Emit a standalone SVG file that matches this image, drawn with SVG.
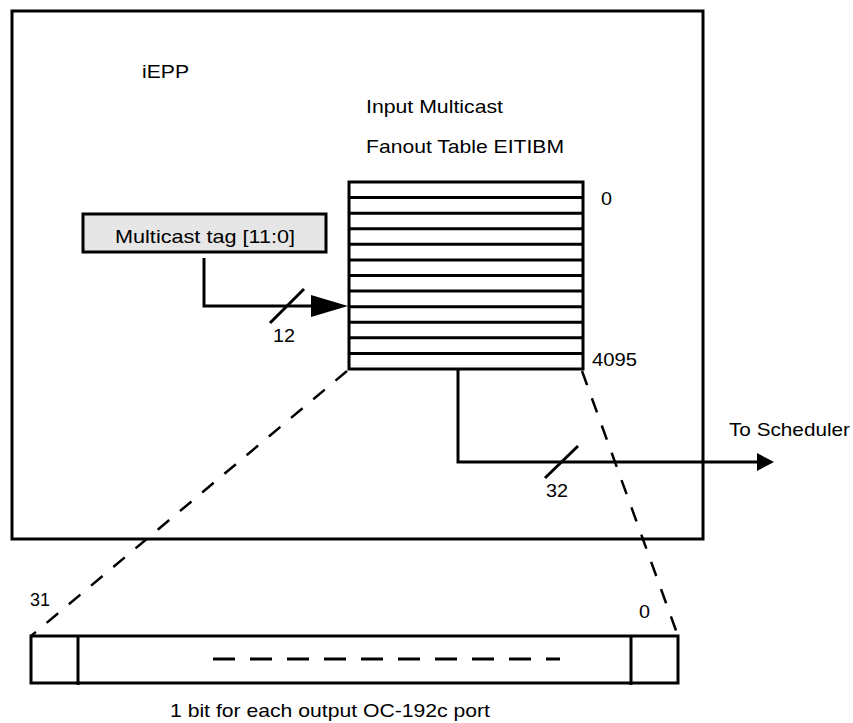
<svg xmlns="http://www.w3.org/2000/svg" width="853" height="723" viewBox="0 0 853 723">
<style>
.ln{fill:none;stroke:#000;stroke-width:3}
.dash{fill:none;stroke:#000;stroke-width:2.5;stroke-dasharray:15 14}
.t{font-family:"Liberation Sans",Arial,sans-serif;font-size:19px;fill:#000}
</style>
<rect width="853" height="723" fill="#fff"/>
<g id="iepp">
<rect class="ln" x="12" y="11" width="691" height="528"/>
<text class="t" x="142" y="78" textLength="47" lengthAdjust="spacingAndGlyphs">iEPP</text>
</g>
<g id="table">
<text class="t" x="366" y="113" textLength="137" lengthAdjust="spacingAndGlyphs">Input Multicast</text>
<text class="t" x="366" y="153" textLength="198" lengthAdjust="spacingAndGlyphs">Fanout Table EITIBM</text>
<rect class="ln" x="349" y="182" width="234" height="187"/>
<path class="ln" d="M349 197.6H583M349 213.2H583M349 228.8H583M349 244.3H583M349 259.9H583M349 275.5H583M349 291.1H583M349 306.7H583M349 322.2H583M349 337.8H583M349 353.4H583"/>
<text class="t" x="601" y="205" textLength="11" lengthAdjust="spacingAndGlyphs">0</text>
<text class="t" x="592" y="366" textLength="45" lengthAdjust="spacingAndGlyphs">4095</text>
</g>
<g id="tag">
<rect x="83" y="214" width="243" height="38" fill="#e6e6e6" stroke="#000" stroke-width="3"/>
<text class="t" x="115" y="243" textLength="180" lengthAdjust="spacingAndGlyphs">Multicast tag [11:0]</text>
</g>
<g id="bitmap">
<rect class="ln" x="31" y="636" width="647" height="47"/>
<path class="ln" d="M78 636V685M631 636V685"/>
<path d="M213 659H560" fill="none" stroke="#000" stroke-width="3" stroke-dasharray="22 15"/>
<text class="t" x="30" y="606" textLength="20" lengthAdjust="spacingAndGlyphs">31</text>
<text class="t" x="639" y="618" textLength="11" lengthAdjust="spacingAndGlyphs">0</text>
<text class="t" x="170" y="717" textLength="320" lengthAdjust="spacingAndGlyphs">1 bit for each output OC-192c port</text>
</g>
<g id="connectors">
<path class="ln" d="M204 258V306H312"/>
<polygon points="311,295 348,306 311,317" fill="#000"/>
<path class="ln" d="M270 323L304 289"/>
<text class="t" x="273" y="342" textLength="22" lengthAdjust="spacingAndGlyphs">12</text>
<path class="ln" d="M458 369V462H758"/>
<polygon points="757,453 774,462 757,471" fill="#000"/>
<path class="ln" d="M545 478L578 446"/>
<text class="t" x="546" y="497" textLength="22" lengthAdjust="spacingAndGlyphs">32</text>
<text class="t" x="729" y="436" textLength="121" lengthAdjust="spacingAndGlyphs">To Scheduler</text>
<path class="dash" d="M347 371L31 636"/>
<path class="dash" d="M582 371L678 636"/>
</g>
</svg>
